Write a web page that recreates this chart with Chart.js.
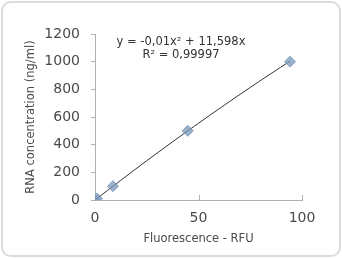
<!DOCTYPE html>
<html>
<head>
<meta charset="utf-8">
<script src="https://cdn.jsdelivr.net/npm/chart.js@4"></script>
<style>
  html, body { margin: 0; padding: 0; background: #fff; }
  .frame {
    position: absolute; left: 1px; top: 1px; width: 336px; height: 252px;
    border: 2px solid #dcdcdc; border-radius: 10px; box-sizing: content-box;
  }
  .wrap { position: absolute; left: 0; top: 0; width: 342px; height: 258px; }
</style>
</head>
<body>
<div class="frame"></div>
<div class="wrap"><canvas id="curva" width="342" height="258"></canvas></div>
<script>
// puntos medidos
const fluorescencia = [0, 1, 8.7, 44.8, 94.2];
const concentracion = [0, 10, 100, 500, 1000];

// linea de tendencia
const tendenciaX = [0, 25, 50, 75, 94.2];
const tendenciaY = [0, 284, 555, 814, 1004];

const ecuacion = ['y = -0,01x\u00b2 + 11,598x', 'R\u00b2 = 0,99997'];

const xTicks = [0, 50, 100];
const yTicks = [0, 200, 400, 600, 800, 1000, 1200];

const gris = '#4a4a4a';
const fuente = 'DejaVu Sans';

// marcas cortas del eje x hacia dentro, como en Excel
const marcasDentro = {
    id: 'marcasDentro',
    afterDraw(chart) {
        const c = chart.ctx, x = chart.scales.x, y = chart.scales.y;
        c.save();
        c.strokeStyle = '#b0b0b0';
        c.lineWidth = 1;
        xTicks.forEach(v => {
            if (v === 0) return;
            const px = Math.round(x.getPixelForValue(v)) + 0.5;
            c.beginPath();
            c.moveTo(px, y.bottom);
            c.lineTo(px, y.bottom - 5);
            c.stroke();
        });
        c.fillStyle = '#333';
        c.font = '11.5px ' + fuente;
        c.textAlign = 'center';
        c.textBaseline = 'middle';
        c.fillText(ecuacion[0], 181, 42);
        c.fillText(ecuacion[1], 181, 55);
        c.restore();
    }
};

new Chart(document.getElementById('curva').getContext('2d'), {
    type: 'scatter',
    data: {
        datasets: [{
            type: 'line',
            data: tendenciaX.map((v, i) => ({ x: v, y: tendenciaY[i] })),
            borderColor: '#333',
            borderWidth: 1,
            pointRadius: 0,
            tension: 0.3,
            order: 2
        }, {
            data: fluorescencia.map((v, i) => ({ x: v, y: concentracion[i] })),
            pointStyle: 'rectRot',
            pointRadius: 5.5,
            backgroundColor: 'rgba(120,150,185,0.75)',
            borderColor: 'rgba(120,150,185,0.85)',
            borderWidth: 1,
            order: 1
        }]
    },
    options: {
        responsive: false,
        animation: false,
        layout: { padding: { left: 20, right: 40, top: 34, bottom: 8 } },
        plugins: {
            legend: { display: false },
            tooltip: { enabled: false }
        },
        scales: {
            x: {
                type: 'linear',
                min: 0,
                max: 100,
                afterFit: s => { s.height = 50; },
                afterBuildTicks: s => { s.ticks = xTicks.map(v => ({ value: v })); },
                grid: { display: false, drawTicks: false },
                border: { color: '#b0b0b0' },
                ticks: {
                    color: gris,
                    padding: 10,
                    font: { family: fuente, size: 14 },
                    callback: v => String(v)
                },
                title: {
                    display: true,
                    text: 'Fluorescence - RFU',
                    color: gris,
                    padding: 4,
                    font: { family: fuente, size: 11.5 }
                }
            },
            y: {
                min: 0,
                max: 1200,
                afterFit: s => { s.width = 75; },
                afterBuildTicks: s => { s.ticks = yTicks.map(v => ({ value: v })); },
                grid: { drawOnChartArea: false, tickLength: 4, color: '#b0b0b0' },
                border: { color: '#b0b0b0' },
                ticks: {
                    color: gris,
                    padding: 11,
                    font: { family: fuente, size: 14 },
                    callback: v => String(v)
                },
                title: {
                    display: true,
                    text: 'RNA concentration (ng/ml)',
                    color: gris,
                    padding: 4,
                    font: { family: fuente, size: 11.5 }
                }
            }
        }
    },
    plugins: [marcasDentro]
});
</script>
</body>
</html>
